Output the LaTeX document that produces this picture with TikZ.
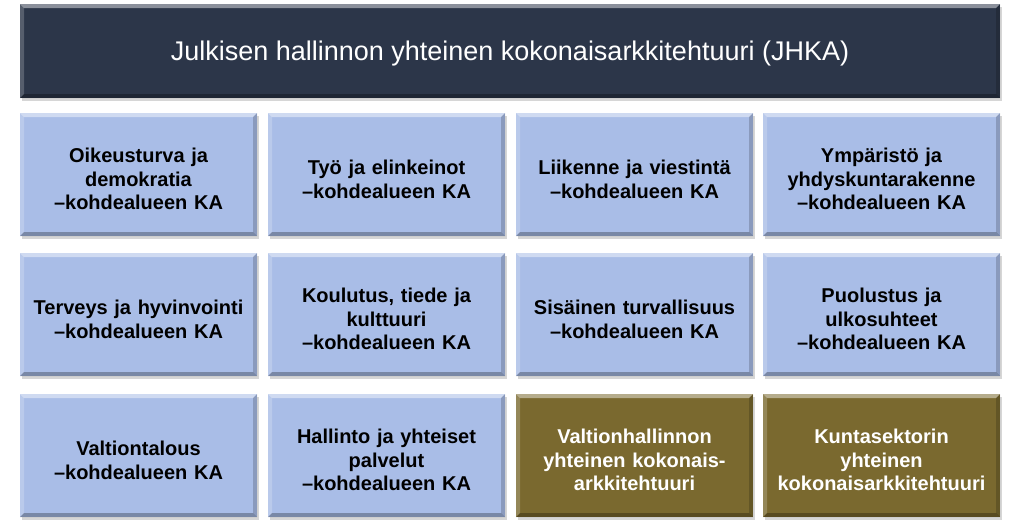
\documentclass[tikz,border=0pt]{standalone}
\usepackage{fontspec}
\setmainfont{Liberation Sans}
\usetikzlibrary{shadows}
\definecolor{hdr}{HTML}{2C3649}
\definecolor{bluebox}{HTML}{A9BDE7}
\definecolor{olivebox}{HTML}{7A692F}
\tikzset{
  bevel/.style={path picture={
    \fill[white,opacity=.45] (path picture bounding box.north west) -- (path picture bounding box.north east) -- ([shift={(-4pt,-4pt)}]path picture bounding box.north east) -- ([shift={(4pt,-4pt)}]path picture bounding box.north west) -- cycle;
    \fill[white,opacity=.2] (path picture bounding box.north west) -- ([shift={(4pt,-4pt)}]path picture bounding box.north west) -- ([shift={(4pt,4pt)}]path picture bounding box.south west) -- (path picture bounding box.south west) -- cycle;
    \fill[black,opacity=.18] (path picture bounding box.north east) -- ([shift={(-4pt,-4pt)}]path picture bounding box.north east) -- ([shift={(-4pt,4pt)}]path picture bounding box.south east) -- (path picture bounding box.south east) -- cycle;
    \fill[black,opacity=.28] (path picture bounding box.south west) -- ([shift={(4pt,4pt)}]path picture bounding box.south west) -- ([shift={(-4pt,4pt)}]path picture bounding box.south east) -- (path picture bounding box.south east) -- cycle;
  }},
  shade box/.style={drop shadow={shadow xshift=2pt,shadow yshift=-3pt,fill=black,opacity=.16}},
  header/.style={shade box,bevel,fill=hdr,minimum width=980pt,minimum height=94pt,inner sep=0pt,
    text=white,font=\fontsize{27}{32}\selectfont,text depth=-6pt},
  kabox/.style={shade box,bevel,fill=bluebox,minimum width=237pt,minimum height=123pt,inner sep=0pt,
    align=center,text width=230pt,font=\bfseries\fontsize{20}{23.5}\selectfont,text=black,
    execute at begin node={\rule{0pt}{24pt}}},
  olive/.style={kabox,fill=olivebox,text=white},
}
\begin{document}
\begin{tikzpicture}[x=1pt,y=-1pt]
\useasboundingbox (0,0) rectangle (1034,528);
\fill[white] (0,0) rectangle (1034,528);
\node[header] (jhka) at (510,51) {Julkisen hallinnon yhteinen kokonaisarkkitehtuuri (JHKA)};
% row 1
\node[kabox] (oik) at (138.5,174.5) {Oikeusturva ja\\demokratia\\–kohdealueen KA};
\node[kabox] (tyo) at (386.5,174.5) {Työ ja elinkeinot\\–kohdealueen KA};
\node[kabox] (lii) at (634.5,174.5) {Liikenne ja viestintä\\–kohdealueen KA};
\node[kabox] (ymp) at (881.5,174.5) {Ympäristö ja\\yhdyskuntarakenne\\–kohdealueen KA};
% row 2
\node[kabox] (ter) at (138.5,314.5) {Terveys ja hyvinvointi\\–kohdealueen KA};
\node[kabox] (kou) at (386.5,314.5) {Koulutus, tiede ja\\kulttuuri\\–kohdealueen KA};
\node[kabox] (sis) at (634.5,314.5) {Sisäinen turvallisuus\\–kohdealueen KA};
\node[kabox] (puo) at (881.5,314.5) {Puolustus ja\\ulkosuhteet\\–kohdealueen KA};
% row 3
\node[kabox] (val) at (138.5,455.5) {Valtiontalous\\–kohdealueen KA};
\node[kabox] (hal) at (386.5,455.5) {Hallinto ja yhteiset\\palvelut\\–kohdealueen KA};
\node[olive] (vhk) at (634.5,455.5) {Valtionhallinnon\\yhteinen kokonais-\\arkkitehtuuri};
\node[olive] (kun) at (881.5,455.5) {Kuntasektorin\\yhteinen\\kokonaisarkkitehtuuri};
\end{tikzpicture}
\end{document}
